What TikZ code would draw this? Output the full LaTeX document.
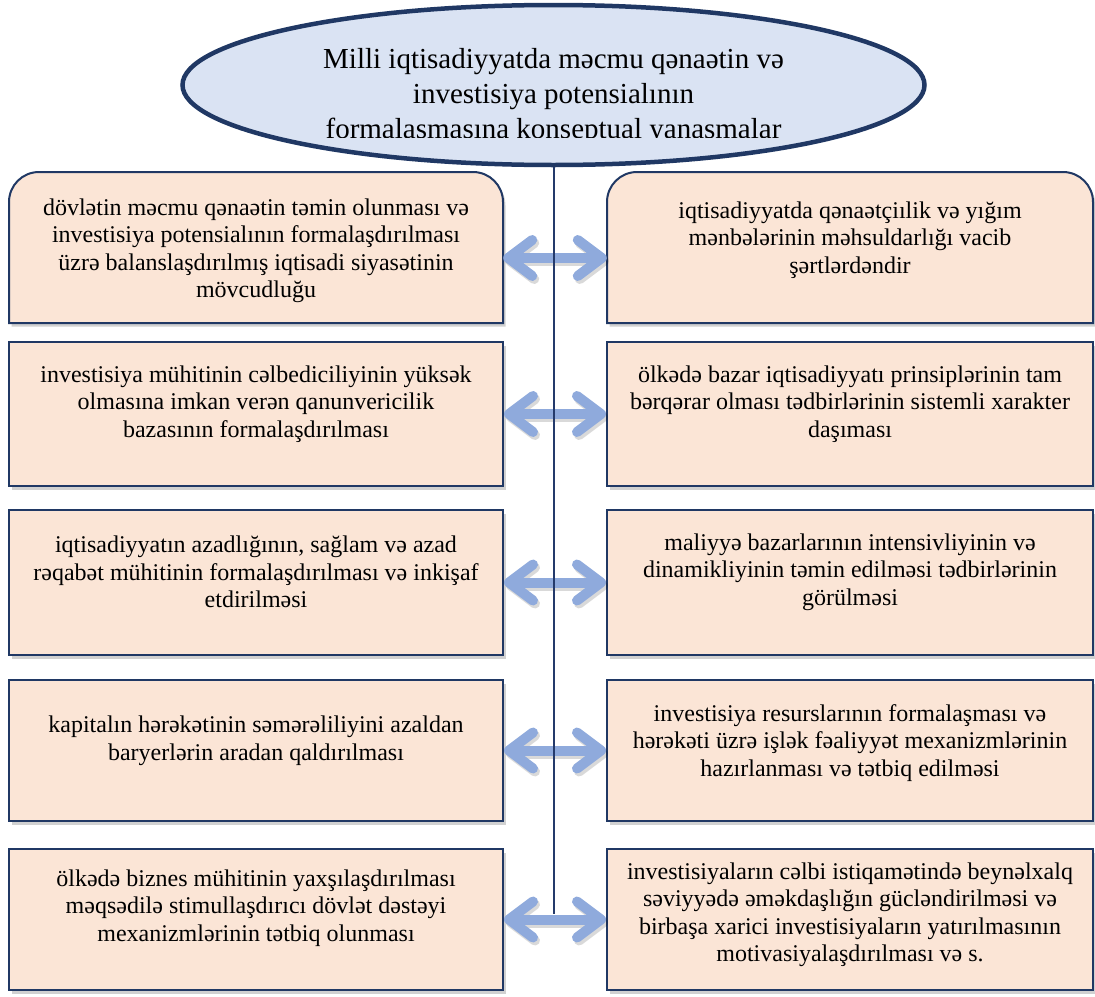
\documentclass[tikz,border=0pt]{standalone}
\usepackage{fontspec}
\setmainfont{Liberation Serif}
\usetikzlibrary{arrows.meta,shapes.geometric,shadows}
\definecolor{navy}{HTML}{203864}
\definecolor{peach}{HTML}{FBE5D6}
\definecolor{paleblue}{HTML}{DAE3F3}
\definecolor{arrowblue}{HTML}{8FAADC}
\definecolor{stemnavy}{HTML}{243A6B}
\begin{document}
\begin{tikzpicture}[x=1pt,y=-1pt,
  boxshadow/.style={drop shadow={shadow xshift=2.5pt,shadow yshift=-3.5pt,opacity=.3,fill=black!60}},
  panel/.style={draw=navy,line width=2pt,fill=peach,boxshadow},
  cell/.style={panel,rectangle,inner sep=0pt},
  frame/.style={rectangle,inner sep=0pt},
  body/.style={align=center,font=\fontsize{24}{27.5}\selectfont,inner sep=0pt},
  heading/.style={align=center,font=\fontsize{29}{35}\selectfont,inner sep=0pt},
  barb/.tip={Straight Barb[length=24pt,width=36pt,round]},
  link/.style={draw=arrowblue,line width=10pt,barb-barb},
  linkshade/.style={draw=black,opacity=.15,line width=10pt,barb-barb,
    transform canvas={xshift=2pt,yshift=-3pt}},
  stem/.style={draw=stemnavy,line width=2pt},
  oval/.style={ellipse,draw=navy,line width=4.5pt,fill=paleblue,inner sep=0pt},
]
\useasboundingbox (0,0) rectangle (1095,996);

% top row: panels with rounded upper corners
\path[panel] (9,323) -- (9,202) arc[start angle=180,end angle=270,radius=30]
  -- (473,172) arc[start angle=270,end angle=360,radius=30] -- (503,323) -- cycle;
\path[panel] (607,323) -- (607,202) arc[start angle=180,end angle=270,radius=30]
  -- (1063,172) arc[start angle=270,end angle=360,radius=30] -- (1093,323) -- cycle;
\node[frame,minimum width=494,minimum height=151] (L1) at (256,247.5) {};
\node[frame,minimum width=486,minimum height=151] (R1) at (850,247.5) {};

% remaining rows
\node[cell,minimum width=494,minimum height=144] (L2) at (256,414) {};
\node[cell,minimum width=486,minimum height=144] (R2) at (850,414) {};
\node[cell,minimum width=494,minimum height=145] (L3) at (256,582.5) {};
\node[cell,minimum width=486,minimum height=145] (R3) at (850,582.5) {};
\node[cell,minimum width=494,minimum height=141] (L4) at (256,750.5) {};
\node[cell,minimum width=486,minimum height=141] (R4) at (850,750.5) {};
\node[cell,minimum width=494,minimum height=141] (L5) at (256,919.5) {};
\node[cell,minimum width=486,minimum height=141] (R5) at (850,919.5) {};

% texts
\node[body] (L1t) at (256,251) {dövlətin məcmu qənaətin təmin olunması və\\investisiya potensialının formalaşdırılması\\üzrə balanslaşdırılmış iqtisadi siyasətinin\\mövcudluğu};
\node[body] (R1t) at (850,240) {iqtisadiyyatda qənaətçiılik və yığım\\mənbələrinin məhsuldarlığı vacib\\şərtlərdəndir};
\node[body] (L2t) at (256,404) {investisiya mühitinin cəlbediciliyinin yüksək\\olmasına imkan verən qanunvericilik\\bazasının formalaşdırılması};
\node[body] (R2t) at (850,404) {ölkədə bazar iqtisadiyyatı prinsiplərinin tam\\bərqərar olması tədbirlərinin sistemli xarakter\\daşıması};
\node[body] (L3t) at (256,572) {iqtisadiyyatın azadlığının, sağlam və azad\\rəqabət mühitinin formalaşdırılması və inkişaf\\etdirilməsi};
\node[body] (R3t) at (850,572) {maliyyə bazarlarının intensivliyinin və\\dinamikliyinin təmin edilməsi tədbirlərinin\\görülməsi};
\node[body] (L4t) at (256,741) {kapitalın hərəkətinin səmərəliliyini azaldan\\baryerlərin aradan qaldırılması};
\node[body] (R4t) at (850,743) {investisiya resurslarının formalaşması və\\hərəkəti üzrə işlək fəaliyyət mexanizmlərinin\\hazırlanması və tətbiq edilməsi};
\node[body] (L5t) at (256,908) {ölkədə biznes mühitinin yaxşılaşdırılması\\məqsədilə stimullaşdırıcı dövlət dəstəyi\\mexanizmlərinin tətbiq olunması};
\node[body] (R5t) at (850,915) {investisiyaların cəlbi istiqamətində beynəlxalq\\səviyyədə əməkdaşlığın gücləndirilməsi və\\birbaşa xarici investisiyaların yatırılmasının\\motivasiyalaşdırılması və s.};

% double arrows between the columns
\draw[linkshade] ([yshift=-10.5pt]L1.east) -- ([yshift=-10.5pt]R1.west);
\draw[linkshade] (L2.east) -- (R2.west);
\draw[linkshade] (L3.east) -- (R3.west);
\draw[linkshade] (L4.east) -- (R4.west);
\draw[linkshade] (L5.east) -- (R5.west);
\draw[link] ([yshift=-10.5pt]L1.east) -- ([yshift=-10.5pt]R1.west);
\draw[link] (L2.east) -- (R2.west);
\draw[link] (L3.east) -- (R3.west);
\draw[link] (L4.east) -- (R4.west);
\draw[link] (L5.east) -- (R5.west);

% heading oval and central stem
\node[oval,minimum width=742,minimum height=160] (E) at (553.5,85) {};
\coordinate (stemEnd) at (553.5,914);
\draw[stem] (E.south) -- (E.south |- stemEnd);
\begin{scope}
  \clip (180,0) rectangle (930,137);
  \node[heading] (Et) at (553.5,97) {Milli iqtisadiyyatda məcmu qənaətin və\\investisiya potensialının\\formalaşmasına konseptual yanaşmalar};
\end{scope}
\end{tikzpicture}
\end{document}
